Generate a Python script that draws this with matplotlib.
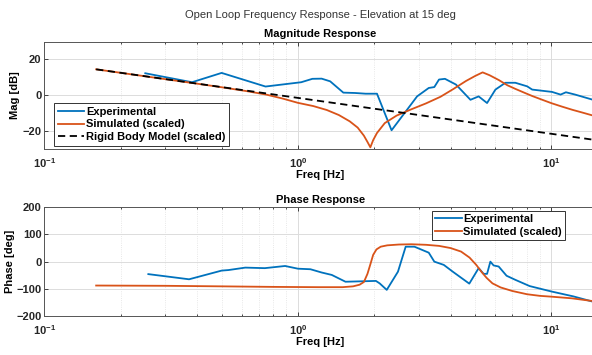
import matplotlib
matplotlib.use('Agg')
import matplotlib.pyplot as plt
import matplotlib.ticker as mticker
import numpy as np

plt.rcParams['font.family'] = ['Liberation Sans', 'DejaVu Sans']
plt.rcParams['mathtext.fontset'] = 'custom'
plt.rcParams['mathtext.rm'] = 'Liberation Sans'
plt.rcParams['mathtext.bf'] = 'Liberation Sans:bold'

# --- magnitude data ---
exp_mag_f = [0.25, 0.382, 0.50, 0.745, 1.03, 1.14, 1.24, 1.34, 1.51, 1.68, 1.85, 2.05,
             2.34, 2.82, 2.95, 3.28, 3.45, 3.60, 3.80, 4.20, 4.79, 5.16, 5.57, 6.01,
             6.58, 7.20, 8.02, 8.39, 10.05, 10.86, 11.4, 12.4, 14.5]
exp_mag_db = [12.3, 7.3, 12.5, 4.9, 7.3, 9.2, 9.3, 7.8, 1.5, 1.3, 0.9, 0.9,
              -19.5, -4.3, -0.6, 4.1, 4.6, 8.8, 9.2, 6.0, -2.5, -0.6, -4.3, 3.2,
              7.0, 7.0, 5.0, 3.2, 1.9, 0.4, 1.7, 0.4, -2.4]

sim_mag_f = [0.16, 0.25, 0.40, 0.50, 0.63, 0.75, 0.87, 1.0, 1.15, 1.30, 1.45, 1.60,
             1.72, 1.82, 1.88, 1.93, 1.98, 2.05, 2.20, 2.45, 2.80, 3.20, 3.65, 4.10,
             4.60, 5.00, 5.35, 5.70, 6.20, 6.70, 7.20, 7.80, 8.40, 9.20, 10.0, 11.0,
             12.1, 13.3, 14.5]
sim_mag_db = [14.5, 10.6, 6.5, 4.5, 2.3, 0.4, -1.8, -4.2, -6.0, -8.2, -11.0, -14.5,
              -18.0, -22.5, -26.0, -29.0, -25.0, -21.0, -15.5, -11.3, -7.8, -4.5, -0.8, 3.5,
              8.0, 10.8, 12.8, 11.2, 8.5, 5.6, 3.6, 1.5, -0.4, -2.5, -4.4, -6.3,
              -8.1, -9.7, -11.2]

rigid_f = [0.16, 15.0]
rigid_db = [14.5, -25.0]

# --- phase data ---
exp_ph_f = [0.257, 0.372, 0.50, 0.532, 0.62, 0.74, 0.89, 1.0, 1.12, 1.24, 1.36, 1.54,
            2.03, 2.10, 2.24, 2.48, 2.66, 2.88, 3.28, 3.45, 3.76, 4.08, 4.74, 5.16,
            5.40, 5.57, 5.74, 5.91, 6.19, 6.65, 7.20, 8.20, 10.0, 12.2, 14.5]
exp_ph_deg = [-46, -65, -33, -31, -22, -24, -16, -26, -28, -40, -49, -74,
              -71, -80, -104, -37, 55, 55, 33, 0, -12, -37, -81, -24,
              -45, -45, 0, -14, -18, -52, -67, -90, -110, -128, -147]

sim_ph_f = [0.16, 0.3, 0.5, 0.8, 1.2, 1.5, 1.65, 1.75, 1.82, 1.88, 1.93, 1.98,
            2.04, 2.12, 2.25, 2.5, 2.8, 3.2, 3.6, 4.0, 4.4, 4.75, 5.05, 5.3,
            5.55, 5.85, 6.3, 7.0, 8.0, 9.0, 10.0, 12.0, 14.5]
sim_ph_deg = [-88, -89, -91, -93, -94, -94, -91, -85, -75, -45, -10, 25,
              45, 55, 60, 63, 64, 62, 58, 50, 37, 15, -12, -38,
              -60, -80, -95, -108, -120, -126, -129, -135, -145]

blue = '#0072BD'
orange = '#D95319'
fs = 8


def style_ax(ax):
    ax.set_xscale('log')
    ax.set_xlim(0.1, 15)
    ax.xaxis.set_major_locator(mticker.LogLocator(base=10))
    ax.xaxis.set_major_formatter(mticker.FuncFormatter(
        lambda v, p: r'$\mathbf{10^{%d}}$' % round(np.log10(v))))
    ax.xaxis.set_minor_formatter(mticker.NullFormatter())
    ax.grid(True, which='major', color='#dcdcdc', lw=0.7)
    ax.grid(True, which='minor', axis='x', color='#e0e0e0', lw=0.6, ls=':')
    ax.tick_params(which='both', direction='in', top=True, right=True,
                   labelsize=fs, colors='#262626', width=0.6)
    ax.tick_params(which='major', length=3)
    ax.tick_params(which='minor', length=1.5)
    ax.tick_params(axis='y', pad=2)
    ax.tick_params(axis='x', pad=5)
    for lab in ax.get_yticklabels():
        lab.set_fontweight('bold')
    for s in ax.spines.values():
        s.set_color('#555555')
        s.set_linewidth(0.7)
    ax.set_axisbelow(True)


fig = plt.figure(figsize=(5.92, 3.55), dpi=100)
ax1 = fig.add_axes([0.075, 0.58, 0.932, 0.303])
ax2 = fig.add_axes([0.075, 0.11, 0.932, 0.306])

ax1.plot(exp_mag_f, exp_mag_db, color=blue, lw=1.3, label='Experimental')
ax1.plot(sim_mag_f, sim_mag_db, color=orange, lw=1.3, label='Simulated (scaled)')
ax1.plot(rigid_f, rigid_db, color='black', lw=1.3, ls=(0, (4, 2.5)),
         label='Rigid Body Model (scaled)')
ax1.set_ylim(-30, 30)
ax1.set_yticks([-20, 0, 20])
style_ax(ax1)
ax1.set_ylabel('Mag [dB]', fontsize=fs, fontweight='bold', labelpad=2)
ax1.set_xlabel('Freq [Hz]', fontsize=fs, fontweight='bold', labelpad=0)
ax1.set_title('Magnitude Response', fontsize=fs, fontweight='bold', pad=3)
leg1 = ax1.legend(loc='lower left', bbox_to_anchor=(0.018, 0.033), borderaxespad=0,
                  fancybox=False, framealpha=1, edgecolor='#333333',
                  handlelength=2.4, handletextpad=0.15, borderpad=0.3, labelspacing=0.25,
                  prop={'weight': 'bold', 'size': fs})
leg1.get_frame().set_linewidth(0.7)

ax2.plot(exp_ph_f, exp_ph_deg, color=blue, lw=1.3, label='Experimental')
ax2.plot(sim_ph_f, sim_ph_deg, color=orange, lw=1.3, label='Simulated (scaled)')
ax2.set_ylim(-200, 200)
ax2.set_yticks([-200, -100, 0, 100, 200])
style_ax(ax2)
ax2.set_ylabel('Phase [deg]', fontsize=fs, fontweight='bold', labelpad=1)
ax2.set_xlabel('Freq [Hz]', fontsize=fs, fontweight='bold', labelpad=0)
ax2.set_title('Phase Response', fontsize=fs, fontweight='bold', pad=3)
leg2 = ax2.legend(loc='upper right', bbox_to_anchor=(0.944, 0.969), borderaxespad=0,
                  fancybox=False, framealpha=1, edgecolor='#333333',
                  handlelength=2.4, handletextpad=0.15, borderpad=0.3, labelspacing=0.25,
                  prop={'weight': 'bold', 'size': fs})
leg2.get_frame().set_linewidth(0.7)

fig.text(0.5405, 0.958, 'Open Loop Frequency Response - Elevation at 15 deg',
         ha='center', va='center', fontsize=fs, color='#333333')

fig.savefig('out.png', dpi=100)
